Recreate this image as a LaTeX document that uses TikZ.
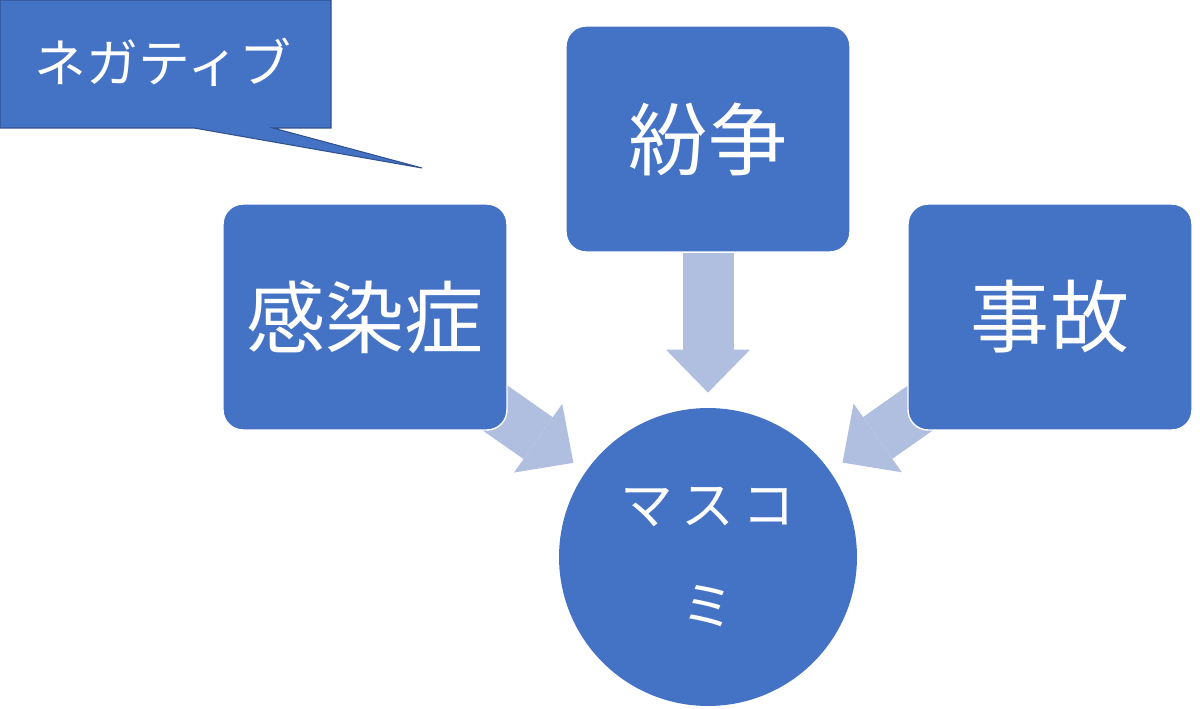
\documentclass[tikz,border=0pt]{standalone}
\usepackage{fontspec}
\setmainfont{Noto Sans CJK JP}
\usetikzlibrary{arrows.meta,calc,backgrounds}

\definecolor{boxblue}{HTML}{4472C4}
\definecolor{feedblue}{RGB}{176,190,224}
\definecolor{balloonedge}{HTML}{2F528F}

\begin{document}
\begin{tikzpicture}[
  x=0.02cm, y=-0.02cm,
  topic/.style={draw=white, line width=0.8pt, fill=boxblue, rounded corners=0.4cm, minimum width=5.68cm, minimum height=4.52cm, text=white, font=\fontsize{45}{54}\selectfont},
  hub/.style={circle, fill=boxblue, minimum size=5.96cm, inner sep=0pt, text=white, align=center, font=\fontsize{30}{58}\selectfont},
  balloon/.style={fill=boxblue, draw=balloonedge, line width=0.6pt},
  tagtext/.style={text=white, minimum width=6.62cm, minimum height=2.56cm, font=\fontsize{29.5}{34}\selectfont},
  feed/.style={draw=feedblue, line width=1.02cm, -{Triangle[width=1.68cm, length=0.86cm, line width=0pt]}, shorten >=0.3cm}
]
  \useasboundingbox (0,0) rectangle (1200,709);

  \node[topic] (conflict) at (708,139) {紛争};
  \node[topic] (infection) at (365,317) {感染症};
  \node[topic] (accident) at (1050,317) {事故};
  \node[hub] (media) at (708,557) {マ\hspace{4.6pt}ス\hspace{4.6pt}コ\\ミ};

  \node[tagtext] (negative) at (163,62) {ネガティブ};
  \coordinate (tip) at (422,168);

  \begin{scope}[on background layer]
    \draw[feed] (infection.center) -- (media);
    \draw[feed] (accident.center) -- (media);
    \draw[feed] (conflict) -- (media);
    % speech balloon behind its text
    \path[balloon] (0,0) -- (331,0) -- (331,128) -- (273,128) -- (tip) -- (194,128) -- (0,128) -- cycle;
  \end{scope}
\end{tikzpicture}
\end{document}
